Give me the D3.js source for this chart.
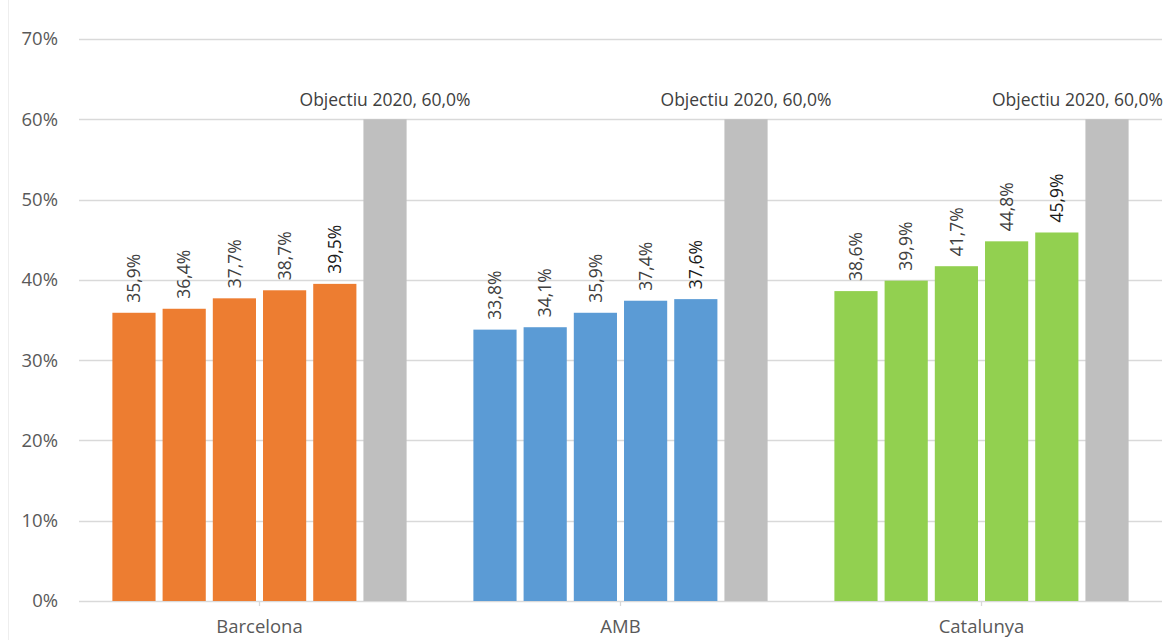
<!DOCTYPE html>
<html>
<head>
<meta charset="utf-8">
<script src="https://cdn.jsdelivr.net/npm/d3@7"></script>
<style>
html,body{margin:0;padding:0;background:#fff;}
svg{display:block;}
</style>
</head>
<body>
<svg id="chart" width="1166" height="640"></svg>
<script>
const categories = ["Barcelona", "AMB", "Catalunya"];
const seriesKeys = ["s1", "s2", "s3", "s4", "s5", "objectiu"];
const barcelonaValues = [35.9, 36.4, 37.7, 38.7, 39.5];
const ambValues = [33.8, 34.1, 35.9, 37.4, 37.6];
const catalunyaValues = [38.6, 39.9, 41.7, 44.8, 45.9];
const targetValue = 60.0;
const targetLabel = "Objectiu 2020";
const yTicks = [0, 10, 20, 30, 40, 50, 60, 70];
const groupColors = ["#ED7D31", "#5B9BD5", "#92D050"];
const targetColor = "#BFBFBF";

const valuesByCat = [barcelonaValues, ambValues, catalunyaValues];
const data = categories.map((c, i) => ({
  cat: c,
  color: groupColors[i],
  bars: valuesByCat[i].map((v, j) => ({key: seriesKeys[j], value: v, last: j === valuesByCat[i].length - 1}))
        .concat([{key: "objectiu", value: targetValue, target: true}])
}));

const svg = d3.select("#chart");
const W = 1166, H = 640;
const m = {left: 79, right: 4, top: 39, bottom: 39};
const font = "'Open Sans', 'Liberation Sans', sans-serif";

const x0 = d3.scaleBand().domain(categories).range([m.left, W - m.right]).paddingInner(0).paddingOuter(0);
const x1 = d3.scaleBand().domain(seriesKeys).range([0, x0.bandwidth()]).paddingInner(0.14).paddingOuter(0.665);
const y = d3.scaleLinear().domain([0, 70]).range([H - m.bottom, m.top]);

// border
svg.append("line").attr("x1", 8.5).attr("x2", 8.5).attr("y1", 0).attr("y2", H)
  .attr("stroke", "#EEEEEE").attr("stroke-width", 1);

// gridlines
svg.append("g").selectAll("line").data(yTicks).join("line")
  .attr("x1", m.left).attr("x2", W - m.right)
  .attr("y1", d => Math.round(y(d)) + 0.5).attr("y2", d => Math.round(y(d)) + 0.5)
  .attr("stroke", "#D9D9D9").attr("stroke-width", 1.3);

// y axis labels
const yAxis = d3.axisLeft(y).tickValues(yTicks).tickFormat(d => d + "%").tickSize(0).tickPadding(21);
const ya = svg.append("g").attr("transform", `translate(${m.left},0)`).call(yAxis);
ya.select(".domain").remove();
ya.selectAll("text").attr("font-family", font).attr("font-size", 18.5).attr("fill", "#595959");

// x axis
const xAxis = d3.axisBottom(x0).tickSize(5).tickPadding(11);
const xa = svg.append("g").attr("transform", `translate(0,${y(0)})`).call(xAxis);
xa.select(".domain").remove();
xa.selectAll(".tick line").attr("stroke", "#D9D9D9").attr("stroke-width", 1.3);
xa.selectAll("text").attr("font-family", font).attr("font-size", 18.5).attr("fill", "#595959").attr("dy", "0.85em");

// bars
const groups = svg.append("g").selectAll("g").data(data).join("g")
  .attr("transform", d => `translate(${x0(d.cat)},0)`);

groups.selectAll("rect").data(d => d.bars.map(b => Object.assign({color: d.color}, b))).join("rect")
  .attr("x", d => x1(d.key))
  .attr("width", x1.bandwidth())
  .attr("y", d => y(d.value))
  .attr("height", d => y(0) - y(d.value))
  .attr("fill", d => d.target ? targetColor : d.color);

const fmt = v => d3.format(".1f")(v).replace(".", ",") + "%";

// value labels (rotated)
groups.selectAll("text.val").data(d => d.bars.filter(b => !b.target)).join("text")
  .attr("class", "val")
  .attr("transform", d => `translate(${x1(d.key) + x1.bandwidth() / 2},${y(d.value) - 10}) rotate(-90)`)
  .attr("dy", "0.35em")
  .attr("text-anchor", "start")
  .attr("font-family", font).attr("font-size", 17.5)
  .attr("fill", d => d.last ? "#1a1a1a" : "#404040")
  .text(d => fmt(d.value));

// target labels
groups.each(function(d) {
  const g = d3.select(this);
  const cx = x0(d.cat) + x1("objectiu") + x1.bandwidth() / 2;
  const t = g.append("text")
    .attr("y", y(targetValue) - 13)
    .attr("font-family", font).attr("font-size", 17.5)
    .attr("fill", "#404040")
    .attr("text-anchor", "middle")
    .text(targetLabel + ", " + fmt(targetValue));
  const w = t.node().getComputedTextLength();
  let center = cx;
  if (center + w / 2 > W - 3) center = W - 3 - w / 2;
  t.attr("x", center - x0(d.cat));
});
</script>
</body>
</html>
